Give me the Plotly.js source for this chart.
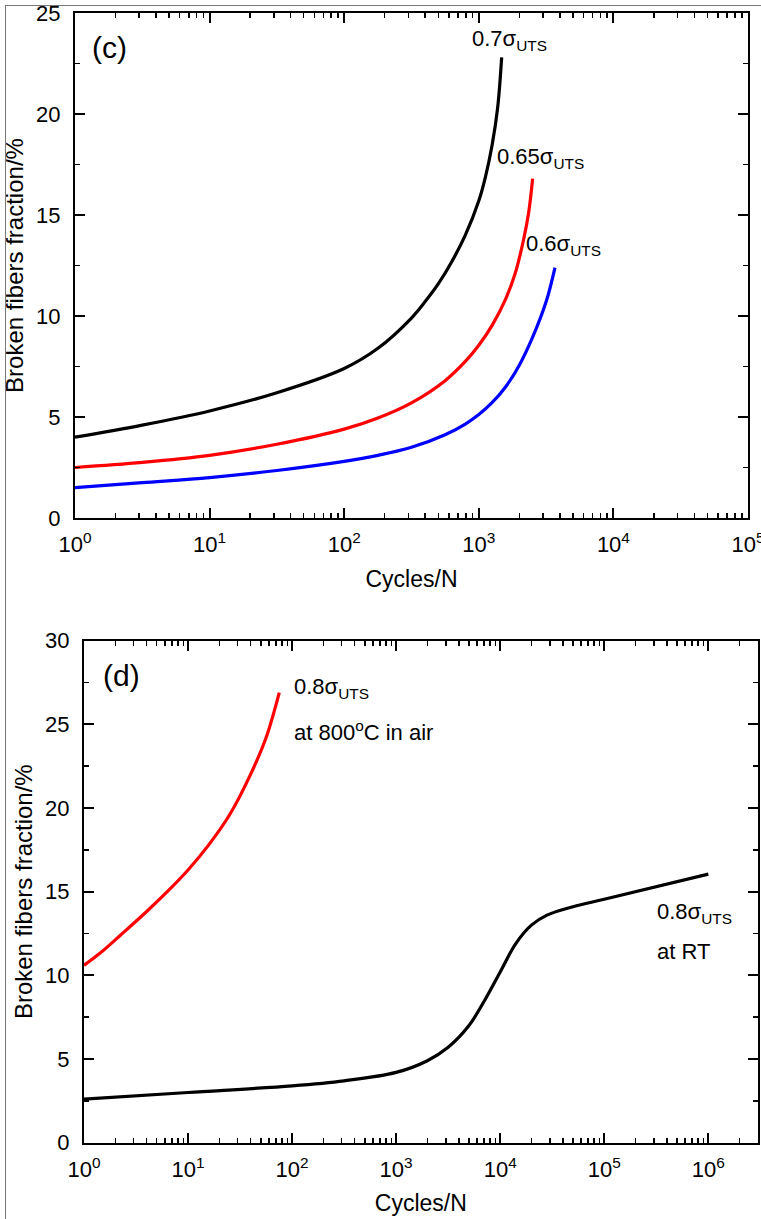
<!DOCTYPE html>
<html>
<head>
<meta charset="utf-8">
<script src="https://cdn.plot.ly/plotly-3.0.1.min.js"></script>
<style>
  html, body { margin: 0; padding: 0; background: #fff; }
  #wrap { position: relative; width: 761px; height: 1219px; }
  #chart { position: absolute; left: 0; top: 0; width: 761px; height: 1219px; }
  #frame { position: absolute; left: 5px; top: 5px; right: 0; bottom: 0;
           border-left: 1px solid #777; border-top: 1px solid #777; pointer-events: none; }
</style>
</head>
<body>
<div id="wrap">
  <div id="chart"></div>
  <div id="frame"></div>
</div>
<script>
// ---------- Data: panel (c) ----------
const c_N_070 = [1, 3.16, 10, 31.6, 100, 178, 316, 398, 501, 631, 794, 1000, 1122, 1259, 1380, 1479];
const c_F_070 = [4.0, 4.6, 5.3, 6.2, 7.4, 8.4, 9.9, 10.7, 11.6, 12.7, 14.0, 15.7, 16.9, 18.5, 20.3, 22.8];

const c_N_065 = [1, 3.16, 10, 31.6, 100, 178, 316, 562, 794, 1000, 1259, 1585, 1862, 2138, 2344, 2512];
const c_F_065 = [2.5, 2.75, 3.1, 3.65, 4.4, 4.95, 5.7, 6.8, 7.75, 8.55, 9.55, 10.85, 12.1, 13.7, 15.1, 16.8];

const c_N_060 = [1, 3.16, 10, 31.6, 100, 178, 316, 562, 794, 1000, 1259, 1585, 1995, 2512, 3162, 3681];
const c_F_060 = [1.5, 1.75, 2.0, 2.35, 2.8, 3.1, 3.5, 4.12, 4.65, 5.12, 5.72, 6.5, 7.55, 8.95, 10.7, 12.4];

// ---------- Data: panel (d) ----------
const d_N_800 = [1, 1.41, 2.24, 3.98, 6.31, 10, 15.8, 25.1, 39.8, 56.2, 75.3];
const d_F_800 = [10.6, 11.3, 12.4, 13.8, 15.0, 16.3, 17.8, 19.6, 22.0, 24.2, 26.9];

const d_N_RT = [1, 10, 100, 316, 1000, 1995, 3162, 5012, 7079, 10000, 14125, 19953, 28184, 50119, 100000, 1000000];
const d_F_RT = [2.6, 3.0, 3.4, 3.7, 4.2, 4.9, 5.7, 7.0, 8.5, 10.2, 11.9, 13.0, 13.6, 14.1, 14.55, 16.05];

// ---------- Tick labels ----------
const c_tickVals = [1, 10, 100, 1000, 10000, 100000];
const c_tickText = ['10<sup>0</sup>', '10<sup>1</sup>', '10<sup>2</sup>', '10<sup>3</sup>', '10<sup>4</sup>', '10<sup>5</sup>'];
const d_tickVals = [1, 10, 100, 1000, 10000, 100000, 1000000];
const d_tickText = ['10<sup>0</sup>', '10<sup>1</sup>', '10<sup>2</sup>', '10<sup>3</sup>', '10<sup>4</sup>', '10<sup>5</sup>', '10<sup>6</sup>'];

const xTitle = 'Cycles/N';
const yTitle = 'Broken fibers fraction/%';

// ---------- helpers ----------
function minorLogVals(maxExp) {
  const v = [];
  for (let e = 0; e <= maxExp; e++) for (let m = 2; m <= 9; m++) v.push(m * Math.pow(10, e));
  return v;
}
const FONT = '"Liberation Sans", Arial, sans-serif';
const W = 761, H = 1219;

function xAxis(domain, logRange, tv, tt, maxExp, anchor) {
  return {
    type: 'log', domain: domain, range: logRange, anchor: anchor,
    tickmode: 'array', tickvals: tv, ticktext: tt,
    ticks: 'inside', ticklen: 10, tickwidth: 2, tickcolor: '#000',
    showline: true, linewidth: 2, linecolor: '#000', mirror: 'ticks',
    showgrid: false, zeroline: false,
    tickfont: { family: FONT, size: 22, color: '#000' },
    ticklabelstandoff: 6, ticklabeloverflow: 'allow',
    minor: { tickmode: 'array', tickvals: minorLogVals(maxExp), ticks: 'inside',
             ticklen: 5, tickwidth: 1.5, tickcolor: '#000', showgrid: false },
    title: { text: xTitle, font: { family: FONT, size: 23, color: '#000' }, standoff: 14 }
  };
}
function yAxis(domain, range, anchor) {
  return {
    domain: domain, range: range, anchor: anchor,
    tickmode: 'linear', tick0: 0, dtick: 5,
    ticks: 'inside', ticklen: 10, tickwidth: 2, tickcolor: '#000',
    showline: true, linewidth: 2, linecolor: '#000', mirror: 'ticks',
    showgrid: false, zeroline: false,
    tickfont: { family: FONT, size: 22, color: '#000' },
    ticklabelstandoff: 8, ticklabeloverflow: 'allow',
    minor: { dtick: 2.5, ticks: 'inside', ticklen: 5, tickwidth: 1.5, tickcolor: '#000', showgrid: false },
    title: { text: yTitle, font: { family: FONT, size: 24, color: '#000' }, standoff: 6 }
  };
}

function line(x, y, color, xa, ya) {
  return { x: x, y: y, mode: 'lines', type: 'scatter', xaxis: xa, yaxis: ya,
           line: { color: color, width: 3.2, shape: 'spline', smoothing: 1 },
           hoverinfo: 'skip', showlegend: false };
}

const traces = [
  line(c_N_070, c_F_070, '#000000', 'x', 'y'),
  line(c_N_065, c_F_065, '#ff0000', 'x', 'y'),
  line(c_N_060, c_F_060, '#0000ff', 'x', 'y'),
  line(d_N_800, d_F_800, '#ff0000', 'x2', 'y2'),
  line(d_N_RT, d_F_RT, '#000000', 'x2', 'y2')
];

const ann = (xa, ya, x, y, text, size) => ({
  xref: xa, yref: ya, x: x, y: y, text: text, showarrow: false,
  xanchor: 'left', yanchor: 'middle', align: 'left',
  font: { family: FONT, size: size, color: '#000' }
});

const layout = {
  width: W, height: H,
  margin: { l: 0, r: 0, t: 0, b: 0 },
  paper_bgcolor: '#fff', plot_bgcolor: '#fff',
  font: { family: FONT, color: '#000' },
  xaxis: xAxis([75 / W, 748 / W], [0, 5], c_tickVals, c_tickText, 4, 'y'),
  yaxis: yAxis([1 - 518 / H, 1 - 13 / H], [0, 25], 'x'),
  xaxis2: xAxis([84 / W, 757.7 / W], [0, 6.475], d_tickVals, d_tickText, 6, 'y2'),
  yaxis2: yAxis([1 - 1142.7 / H, 1 - 640.7 / H], [0, 30], 'x2'),
  annotations: [
    ann('x', 'y', 0.11, 23.3, '(c)', 30),
    ann('x', 'y', 2.935, 23.65, '0.7σ<sub>UTS</sub>', 22),
    ann('x', 'y', 3.12, 17.8, '0.65σ<sub>UTS</sub>', 22),
    ann('x', 'y', 3.336, 13.5, '0.6σ<sub>UTS</sub>', 22),
    ann('x2', 'y2', 0.16, 27.9, '(d)', 30),
    ann('x2', 'y2', 2.0, 27.2, '0.8σ<sub>UTS</sub>', 22),
    ann('x2', 'y2', 2.0, 24.6, 'at 800<sup>o</sup>C in air', 22),
    ann('x2', 'y2', 5.49, 13.75, '0.8σ<sub>UTS</sub>', 22),
    ann('x2', 'y2', 5.49, 11.4, 'at RT', 22)
  ]
};

Plotly.newPlot('chart', traces, layout, { staticPlot: true, displayModeBar: false });
</script>
</body>
</html>
